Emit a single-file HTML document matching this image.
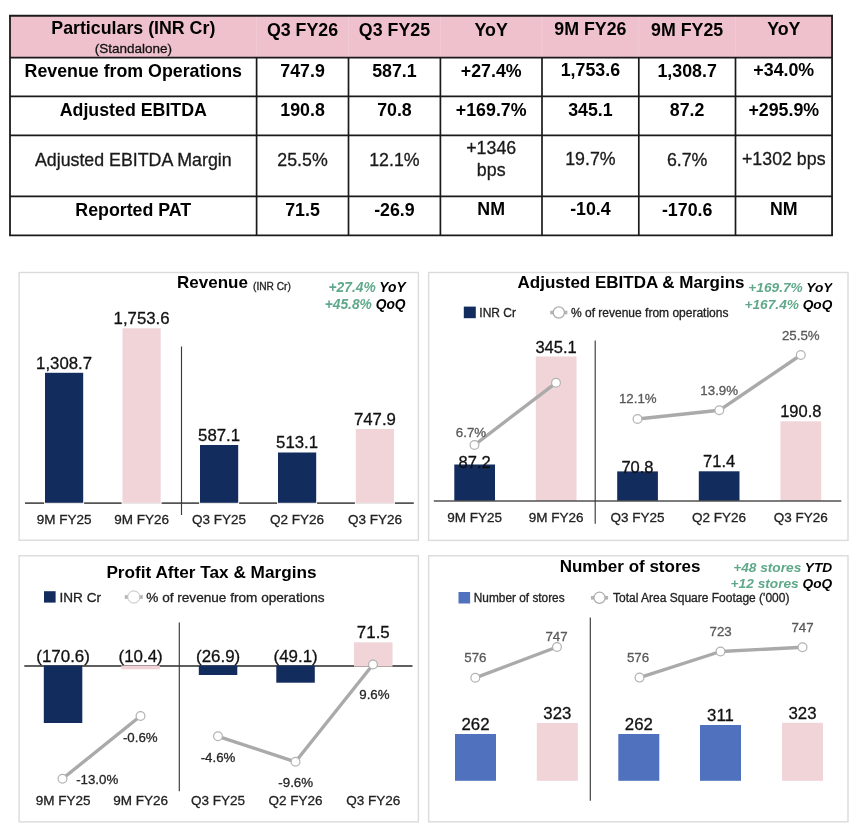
<!DOCTYPE html>
<html lang="en">
<head>
<meta charset="utf-8">
<title>Financial Highlights</title>
<style>
html,body{margin:0;padding:0;background:#fff;}
body{width:860px;height:836px;overflow:hidden;}
svg{display:block;filter:blur(0.4px);font-family:'Liberation Sans', Arial, Helvetica, sans-serif;}
</style>
</head>
<body>
<svg width="860" height="836" viewBox="0 0 860 836">
<rect x="0" y="0" width="860" height="836" fill="#fff"/>
<rect x="10.0" y="15.7" width="822.05" height="41.900000000000006" fill="#EEC1CC" />
<line x1="256.6" y1="16.7" x2="256.6" y2="56.6" stroke="#F1CBD4" stroke-width="1" />
<line x1="348.5" y1="16.7" x2="348.5" y2="56.6" stroke="#F1CBD4" stroke-width="1" />
<line x1="440.4" y1="16.7" x2="440.4" y2="56.6" stroke="#F1CBD4" stroke-width="1" />
<line x1="542.0" y1="16.7" x2="542.0" y2="56.6" stroke="#F1CBD4" stroke-width="1" />
<line x1="638.8" y1="16.7" x2="638.8" y2="56.6" stroke="#F1CBD4" stroke-width="1" />
<line x1="735.5" y1="16.7" x2="735.5" y2="56.6" stroke="#F1CBD4" stroke-width="1" />
<line x1="10.0" y1="57.6" x2="832.05" y2="57.6" stroke="#1a1a1a" stroke-width="1.7" />
<line x1="10.0" y1="96.45" x2="832.05" y2="96.45" stroke="#1a1a1a" stroke-width="1.7" />
<line x1="10.0" y1="135.4" x2="832.05" y2="135.4" stroke="#1a1a1a" stroke-width="1.7" />
<line x1="10.0" y1="196.45" x2="832.05" y2="196.45" stroke="#1a1a1a" stroke-width="1.7" />
<line x1="9.1" y1="15.7" x2="832.9499999999999" y2="15.7" stroke="#1a1a1a" stroke-width="1.9" />
<line x1="9.1" y1="235.35" x2="832.9499999999999" y2="235.35" stroke="#1a1a1a" stroke-width="1.8" />
<line x1="10.0" y1="15.7" x2="10.0" y2="235.35" stroke="#1a1a1a" stroke-width="1.8" />
<line x1="832.05" y1="15.7" x2="832.05" y2="235.35" stroke="#1a1a1a" stroke-width="1.8" />
<line x1="256.6" y1="57.6" x2="256.6" y2="235.35" stroke="#1a1a1a" stroke-width="1.7" />
<line x1="348.5" y1="57.6" x2="348.5" y2="235.35" stroke="#1a1a1a" stroke-width="1.7" />
<line x1="440.4" y1="57.6" x2="440.4" y2="235.35" stroke="#1a1a1a" stroke-width="1.7" />
<line x1="542.0" y1="57.6" x2="542.0" y2="235.35" stroke="#1a1a1a" stroke-width="1.7" />
<line x1="638.8" y1="57.6" x2="638.8" y2="235.35" stroke="#1a1a1a" stroke-width="1.7" />
<line x1="735.5" y1="57.6" x2="735.5" y2="235.35" stroke="#1a1a1a" stroke-width="1.7" />
<text x="133.3" y="33.9" font-size="17.8" font-weight="bold" font-style="normal" text-anchor="middle" fill="#000"  >Particulars (INR Cr)</text>
<text x="133.3" y="53" font-size="13.5" font-weight="normal" font-style="normal" text-anchor="middle" fill="#111" stroke="#111" stroke-width="0.3" >(Standalone)</text>
<text x="302.55" y="35.8" font-size="17.8" font-weight="bold" font-style="normal" text-anchor="middle" fill="#000"  >Q3 FY26</text>
<text x="394.45" y="35.8" font-size="17.8" font-weight="bold" font-style="normal" text-anchor="middle" fill="#000"  >Q3 FY25</text>
<text x="491.2" y="35.7" font-size="17.8" font-weight="bold" font-style="normal" text-anchor="middle" fill="#000"  >YoY</text>
<text x="590.4" y="35.2" font-size="17.8" font-weight="bold" font-style="normal" text-anchor="middle" fill="#000"  >9M FY26</text>
<text x="687.15" y="35.8" font-size="17.8" font-weight="bold" font-style="normal" text-anchor="middle" fill="#000"  >9M FY25</text>
<text x="783.775" y="35.3" font-size="17.8" font-weight="bold" font-style="normal" text-anchor="middle" fill="#000"  >YoY</text>
<text x="133.3" y="76.7" font-size="17.8" font-weight="bold" font-style="normal" text-anchor="middle" fill="#000"  >Revenue from Operations</text>
<text x="302.55" y="76.7" font-size="17.8" font-weight="bold" font-style="normal" text-anchor="middle" fill="#000"  >747.9</text>
<text x="394.45" y="76.7" font-size="17.8" font-weight="bold" font-style="normal" text-anchor="middle" fill="#000"  >587.1</text>
<text x="491.2" y="76.8" font-size="17.8" font-weight="bold" font-style="normal" text-anchor="middle" fill="#000"  >+27.4%</text>
<text x="590.4" y="76.4" font-size="17.8" font-weight="bold" font-style="normal" text-anchor="middle" fill="#000"  >1,753.6</text>
<text x="687.15" y="76.8" font-size="17.8" font-weight="bold" font-style="normal" text-anchor="middle" fill="#000"  >1,308.7</text>
<text x="783.775" y="75.8" font-size="17.8" font-weight="bold" font-style="normal" text-anchor="middle" fill="#000"  >+34.0%</text>
<text x="133.3" y="115.7" font-size="17.8" font-weight="bold" font-style="normal" text-anchor="middle" fill="#000"  >Adjusted EBITDA</text>
<text x="302.55" y="115.7" font-size="17.8" font-weight="bold" font-style="normal" text-anchor="middle" fill="#000"  >190.8</text>
<text x="394.45" y="115.7" font-size="17.8" font-weight="bold" font-style="normal" text-anchor="middle" fill="#000"  >70.8</text>
<text x="491.2" y="115.7" font-size="17.8" font-weight="bold" font-style="normal" text-anchor="middle" fill="#000"  >+169.7%</text>
<text x="590.4" y="115.7" font-size="17.8" font-weight="bold" font-style="normal" text-anchor="middle" fill="#000"  >345.1</text>
<text x="687.15" y="115.7" font-size="17.8" font-weight="bold" font-style="normal" text-anchor="middle" fill="#000"  >87.2</text>
<text x="783.775" y="115.7" font-size="17.8" font-weight="bold" font-style="normal" text-anchor="middle" fill="#000"  >+295.9%</text>
<text x="133.3" y="215.6" font-size="17.8" font-weight="bold" font-style="normal" text-anchor="middle" fill="#000"  >Reported PAT</text>
<text x="302.55" y="215.8" font-size="17.8" font-weight="bold" font-style="normal" text-anchor="middle" fill="#000"  >71.5</text>
<text x="394.45" y="215.8" font-size="17.8" font-weight="bold" font-style="normal" text-anchor="middle" fill="#000"  >-26.9</text>
<text x="491.2" y="215.3" font-size="17.8" font-weight="bold" font-style="normal" text-anchor="middle" fill="#000"  >NM</text>
<text x="590.4" y="214.9" font-size="17.8" font-weight="bold" font-style="normal" text-anchor="middle" fill="#000"  >-10.4</text>
<text x="687.15" y="215.6" font-size="17.8" font-weight="bold" font-style="normal" text-anchor="middle" fill="#000"  >-170.6</text>
<text x="783.775" y="214.8" font-size="17.8" font-weight="bold" font-style="normal" text-anchor="middle" fill="#000"  >NM</text>
<text x="133.3" y="165.9" font-size="17.8" font-weight="normal" font-style="normal" text-anchor="middle" fill="#1a1a1a" stroke="#1a1a1a" stroke-width="0.3" >Adjusted EBITDA Margin</text>
<text x="302.55" y="165.9" font-size="17.8" font-weight="normal" font-style="normal" text-anchor="middle" fill="#1a1a1a" stroke="#1a1a1a" stroke-width="0.3" >25.5%</text>
<text x="394.45" y="165.9" font-size="17.8" font-weight="normal" font-style="normal" text-anchor="middle" fill="#1a1a1a" stroke="#1a1a1a" stroke-width="0.3" >12.1%</text>
<text x="590.4" y="165.2" font-size="17.8" font-weight="normal" font-style="normal" text-anchor="middle" fill="#1a1a1a" stroke="#1a1a1a" stroke-width="0.3" >19.7%</text>
<text x="687.15" y="165.6" font-size="17.8" font-weight="normal" font-style="normal" text-anchor="middle" fill="#1a1a1a" stroke="#1a1a1a" stroke-width="0.3" >6.7%</text>
<text x="783.775" y="164.9" font-size="17.8" font-weight="normal" font-style="normal" text-anchor="middle" fill="#1a1a1a" stroke="#1a1a1a" stroke-width="0.3" >+1302 bps</text>
<text x="491.2" y="154.2" font-size="17.8" font-weight="normal" font-style="normal" text-anchor="middle" fill="#1a1a1a" stroke="#1a1a1a" stroke-width="0.3" >+1346</text>
<text x="491.2" y="176.4" font-size="17.8" font-weight="normal" font-style="normal" text-anchor="middle" fill="#1a1a1a" stroke="#1a1a1a" stroke-width="0.3" >bps</text>
<rect x="19.1" y="272.5" width="399.29999999999995" height="267.70000000000005" fill="#fff" stroke="#DBDBDB" stroke-width="1.4"/>
<text x="177" y="288.0" font-size="17" font-weight="bold" font-style="normal" text-anchor="start" fill="#000"  >Revenue</text>
<text x="253" y="290.1" font-size="10.2" font-weight="normal" font-style="normal" text-anchor="start" fill="#222" stroke="#222" stroke-width="0.3" >(INR Cr)</text>
<text x="405.6" y="291.7" font-size="13.8" font-weight="bold" font-style="italic" text-anchor="end"><tspan fill="#5FA88B">+27.4%</tspan><tspan fill="#000"> YoY</tspan></text>
<text x="405.6" y="308.6" font-size="13.8" font-weight="bold" font-style="italic" text-anchor="end"><tspan fill="#5FA88B">+45.8%</tspan><tspan fill="#000"> QoQ</tspan></text>
<line x1="25" y1="503.2" x2="413.8" y2="503.2" stroke="#555555" stroke-width="1.7" />
<line x1="181.5" y1="346.5" x2="181.5" y2="515" stroke="#3a3a3a" stroke-width="1.15" />
<rect x="44.1" y="501.5" width="40" height="3" fill="#fff" />
<rect x="45" y="502.8" width="38.2" height="1.1" fill="#e4e4e4" />
<rect x="45" y="372.8" width="38.2" height="130.0" fill="#132C5E" />
<text x="64.1" y="368.5" font-size="16.8" font-weight="normal" font-style="normal" text-anchor="middle" fill="#111" stroke="#111" stroke-width="0.3" >1,308.7</text>
<text x="64.1" y="524.3" font-size="13.5" font-weight="normal" font-style="normal" text-anchor="middle" fill="#222" stroke="#222" stroke-width="0.3" >9M FY25</text>
<rect x="121.6" y="501.5" width="40" height="3" fill="#fff" />
<rect x="122.5" y="502.8" width="38.2" height="1.1" fill="#e4e4e4" />
<rect x="122.5" y="328.3" width="38.2" height="174.5" fill="#F0D4D7" />
<text x="141.6" y="324.0" font-size="16.8" font-weight="normal" font-style="normal" text-anchor="middle" fill="#111" stroke="#111" stroke-width="0.3" >1,753.6</text>
<text x="141.6" y="524.3" font-size="13.5" font-weight="normal" font-style="normal" text-anchor="middle" fill="#222" stroke="#222" stroke-width="0.3" >9M FY26</text>
<rect x="199.1" y="501.5" width="40" height="3" fill="#fff" />
<rect x="200" y="502.8" width="38.2" height="1.1" fill="#e4e4e4" />
<rect x="200" y="445" width="38.2" height="57.80000000000001" fill="#132C5E" />
<text x="219.1" y="440.7" font-size="16.8" font-weight="normal" font-style="normal" text-anchor="middle" fill="#111" stroke="#111" stroke-width="0.3" >587.1</text>
<text x="219.1" y="524.3" font-size="13.5" font-weight="normal" font-style="normal" text-anchor="middle" fill="#222" stroke="#222" stroke-width="0.3" >Q3 FY25</text>
<rect x="277.1" y="501.5" width="40" height="3" fill="#fff" />
<rect x="278" y="502.8" width="38.2" height="1.1" fill="#e4e4e4" />
<rect x="278" y="452.5" width="38.2" height="50.30000000000001" fill="#132C5E" />
<text x="297.1" y="448.2" font-size="16.8" font-weight="normal" font-style="normal" text-anchor="middle" fill="#111" stroke="#111" stroke-width="0.3" >513.1</text>
<text x="297.1" y="524.3" font-size="13.5" font-weight="normal" font-style="normal" text-anchor="middle" fill="#222" stroke="#222" stroke-width="0.3" >Q2 FY26</text>
<rect x="354.90000000000003" y="501.5" width="40" height="3" fill="#fff" />
<rect x="355.8" y="502.8" width="38.2" height="1.1" fill="#e4e4e4" />
<rect x="355.8" y="429" width="38.2" height="73.80000000000001" fill="#F0D4D7" />
<text x="374.90000000000003" y="424.7" font-size="16.8" font-weight="normal" font-style="normal" text-anchor="middle" fill="#111" stroke="#111" stroke-width="0.3" >747.9</text>
<text x="374.90000000000003" y="524.3" font-size="13.5" font-weight="normal" font-style="normal" text-anchor="middle" fill="#222" stroke="#222" stroke-width="0.3" >Q3 FY26</text>
<rect x="428.6" y="272.5" width="419.4" height="267.9" fill="#fff" stroke="#DBDBDB" stroke-width="1.4"/>
<text x="517.5" y="288.2" font-size="17" font-weight="bold" font-style="normal" text-anchor="start" fill="#000"  >Adjusted EBITDA &amp; Margins</text>
<clipPath id="c2"><rect x="700" y="275" width="132.4" height="40"/></clipPath>
<g clip-path="url(#c2)">
<text x="832.4" y="291.7" font-size="13.7" font-weight="bold" font-style="italic" text-anchor="end"><tspan fill="#5FA88B">+169.7%</tspan><tspan fill="#000"> YoY</tspan></text>
<text x="832.4" y="308.5" font-size="13.7" font-weight="bold" font-style="italic" text-anchor="end"><tspan fill="#5FA88B">+167.4%</tspan><tspan fill="#000"> QoQ</tspan></text>
</g>
<rect x="463.8" y="306.6" width="12" height="11.6" fill="#132C5E" />
<text x="479.3" y="316.8" font-size="12" font-weight="normal" font-style="normal" text-anchor="start" fill="#222" stroke="#222" stroke-width="0.3" >INR Cr</text>
<line x1="550.1999999999999" y1="312.5" x2="567.4" y2="312.5" stroke="#B4B4B4" stroke-width="3.6" />
<circle cx="558.8" cy="312.5" r="5.6" fill="#fff" stroke="#ADADAD" stroke-width="1.3"/>
<text x="571" y="316.8" font-size="12" font-weight="normal" font-style="normal" text-anchor="start" fill="#222" stroke="#222" stroke-width="0.3" >% of revenue from operations</text>
<rect x="454.3" y="464.5" width="40.7" height="36.5" fill="#132C5E" />
<rect x="535.8" y="356.5" width="40.7" height="144.5" fill="#F0D4D7" />
<rect x="617.2" y="471.4" width="40.7" height="29.600000000000023" fill="#132C5E" />
<rect x="698.8" y="471.3" width="40.7" height="29.69999999999999" fill="#132C5E" />
<rect x="780.5" y="421.3" width="40.7" height="79.69999999999999" fill="#F0D4D7" />
<line x1="433.8" y1="501.0" x2="841.3" y2="501.0" stroke="#505050" stroke-width="1.5" />
<line x1="595.2" y1="340.5" x2="595.2" y2="523.8" stroke="#3a3a3a" stroke-width="1.15" />
<text x="474.6" y="522" font-size="13.5" font-weight="normal" font-style="normal" text-anchor="middle" fill="#222" stroke="#222" stroke-width="0.3" >9M FY25</text>
<text x="556.0999999999999" y="522" font-size="13.5" font-weight="normal" font-style="normal" text-anchor="middle" fill="#222" stroke="#222" stroke-width="0.3" >9M FY26</text>
<text x="637.5" y="522" font-size="13.5" font-weight="normal" font-style="normal" text-anchor="middle" fill="#222" stroke="#222" stroke-width="0.3" >Q3 FY25</text>
<text x="719.0999999999999" y="522" font-size="13.5" font-weight="normal" font-style="normal" text-anchor="middle" fill="#222" stroke="#222" stroke-width="0.3" >Q2 FY26</text>
<text x="800.8" y="522" font-size="13.5" font-weight="normal" font-style="normal" text-anchor="middle" fill="#222" stroke="#222" stroke-width="0.3" >Q3 FY26</text>
<polyline points="474.5,445 556,382.8" fill="none" stroke="#AAAAAA" stroke-width="3.4" stroke-linejoin="round" stroke-linecap="round"/>
<polyline points="637.5,419 719.3,410.3 800.8,355" fill="none" stroke="#AAAAAA" stroke-width="3.4" stroke-linejoin="round" stroke-linecap="round"/>
<circle cx="474.5" cy="445" r="4.4" fill="#fff" stroke="#B2B2B2" stroke-width="1.2"/>
<circle cx="556" cy="382.8" r="4.4" fill="#fff" stroke="#B2B2B2" stroke-width="1.2"/>
<circle cx="637.5" cy="419" r="4.4" fill="#fff" stroke="#B2B2B2" stroke-width="1.2"/>
<circle cx="719.3" cy="410.3" r="4.4" fill="#fff" stroke="#B2B2B2" stroke-width="1.2"/>
<circle cx="800.8" cy="355" r="4.4" fill="#fff" stroke="#B2B2B2" stroke-width="1.2"/>
<text x="474.6" y="467.5" font-size="16.5" font-weight="normal" font-style="normal" text-anchor="middle" fill="#111" stroke="#111" stroke-width="0.3" >87.2</text>
<text x="556.0999999999999" y="352.5" font-size="16.5" font-weight="normal" font-style="normal" text-anchor="middle" fill="#111" stroke="#111" stroke-width="0.3" >345.1</text>
<text x="637.5" y="473" font-size="16.5" font-weight="normal" font-style="normal" text-anchor="middle" fill="#111" stroke="#111" stroke-width="0.3" >70.8</text>
<text x="719.0999999999999" y="467" font-size="16.5" font-weight="normal" font-style="normal" text-anchor="middle" fill="#111" stroke="#111" stroke-width="0.3" >71.4</text>
<text x="800.8" y="417" font-size="16.5" font-weight="normal" font-style="normal" text-anchor="middle" fill="#111" stroke="#111" stroke-width="0.3" >190.8</text>
<text x="471" y="436.8" font-size="13.3" font-weight="normal" font-style="normal" text-anchor="middle" fill="#595959" stroke="#595959" stroke-width="0.3" >6.7%</text>
<text x="637.8" y="403.3" font-size="13.3" font-weight="normal" font-style="normal" text-anchor="middle" fill="#595959" stroke="#595959" stroke-width="0.3" >12.1%</text>
<text x="719.2" y="394.5" font-size="13.3" font-weight="normal" font-style="normal" text-anchor="middle" fill="#595959" stroke="#595959" stroke-width="0.3" >13.9%</text>
<text x="800.8" y="339.5" font-size="13.3" font-weight="normal" font-style="normal" text-anchor="middle" fill="#595959" stroke="#595959" stroke-width="0.3" >25.5%</text>
<rect x="19.1" y="555.8" width="399.29999999999995" height="266.1" fill="#fff" stroke="#DBDBDB" stroke-width="1.4"/>
<text x="106.4" y="578.3" font-size="17.2" font-weight="bold" font-style="normal" text-anchor="start" fill="#000"  >Profit After Tax &amp; Margins</text>
<rect x="44" y="591.2" width="11.6" height="11.4" fill="#132C5E" />
<text x="59.5" y="601.8" font-size="13.6" font-weight="normal" font-style="normal" text-anchor="start" fill="#222" stroke="#222" stroke-width="0.3" >INR Cr</text>
<line x1="124.80000000000001" y1="597" x2="142.8" y2="597" stroke="#B4B4B4" stroke-width="3.6" />
<circle cx="133.8" cy="597" r="6.1" fill="#fff" stroke="#C2C2C2" stroke-width="1.0"/>
<text x="146.3" y="601.8" font-size="13.6" font-weight="normal" font-style="normal" text-anchor="start" fill="#222" stroke="#222" stroke-width="0.3" >% of revenue from operations</text>
<line x1="24.3" y1="666" x2="412.5" y2="666" stroke="#2a2a2a" stroke-width="1.3" />
<rect x="43.8" y="665.5" width="38.5" height="57.5" fill="#132C5E" />
<rect x="121.3" y="665.5" width="38.5" height="3.7999999999999545" fill="#F0D4D7" />
<rect x="198.8" y="665.5" width="38.5" height="9.5" fill="#132C5E" />
<rect x="276.3" y="665.5" width="38.5" height="17.200000000000045" fill="#132C5E" />
<rect x="354" y="642.3" width="38.5" height="24.300000000000068" fill="#F0D4D7" />
<line x1="179.3" y1="622.5" x2="179.3" y2="791.3" stroke="#3a3a3a" stroke-width="1.15" />
<polyline points="62.5,778.8 140.5,716" fill="none" stroke="#AAAAAA" stroke-width="3.4" stroke-linejoin="round" stroke-linecap="round"/>
<polyline points="218,736.3 295.5,761.8 373,664.5" fill="none" stroke="#AAAAAA" stroke-width="3.4" stroke-linejoin="round" stroke-linecap="round"/>
<circle cx="62.5" cy="778.8" r="4.4" fill="#fff" stroke="#B2B2B2" stroke-width="1.2"/>
<circle cx="140.5" cy="716" r="4.4" fill="#fff" stroke="#B2B2B2" stroke-width="1.2"/>
<circle cx="218" cy="736.3" r="4.4" fill="#fff" stroke="#B2B2B2" stroke-width="1.2"/>
<circle cx="295.5" cy="761.8" r="4.4" fill="#fff" stroke="#B2B2B2" stroke-width="1.2"/>
<circle cx="373" cy="664.5" r="4.4" fill="#fff" stroke="#B2B2B2" stroke-width="1.2"/>
<text x="63.099999999999994" y="661.7" font-size="16.9" font-weight="normal" font-style="normal" text-anchor="middle" fill="#111" stroke="#111" stroke-width="0.3" >(170.6)</text>
<text x="140.6" y="661.7" font-size="16.9" font-weight="normal" font-style="normal" text-anchor="middle" fill="#111" stroke="#111" stroke-width="0.3" >(10.4)</text>
<text x="218.10000000000002" y="661.7" font-size="16.9" font-weight="normal" font-style="normal" text-anchor="middle" fill="#111" stroke="#111" stroke-width="0.3" >(26.9)</text>
<text x="295.6" y="661.7" font-size="16.9" font-weight="normal" font-style="normal" text-anchor="middle" fill="#111" stroke="#111" stroke-width="0.3" >(49.1)</text>
<text x="373.3" y="638" font-size="16.9" font-weight="normal" font-style="normal" text-anchor="middle" fill="#111" stroke="#111" stroke-width="0.3" >71.5</text>
<text x="63.099999999999994" y="805" font-size="13.5" font-weight="normal" font-style="normal" text-anchor="middle" fill="#222" stroke="#222" stroke-width="0.3" >9M FY25</text>
<text x="140.6" y="805" font-size="13.5" font-weight="normal" font-style="normal" text-anchor="middle" fill="#222" stroke="#222" stroke-width="0.3" >9M FY26</text>
<text x="218.10000000000002" y="805" font-size="13.5" font-weight="normal" font-style="normal" text-anchor="middle" fill="#222" stroke="#222" stroke-width="0.3" >Q3 FY25</text>
<text x="295.6" y="805" font-size="13.5" font-weight="normal" font-style="normal" text-anchor="middle" fill="#222" stroke="#222" stroke-width="0.3" >Q2 FY26</text>
<text x="373.3" y="805" font-size="13.5" font-weight="normal" font-style="normal" text-anchor="middle" fill="#222" stroke="#222" stroke-width="0.3" >Q3 FY26</text>
<text x="97.2" y="783.8" font-size="13.3" font-weight="normal" font-style="normal" text-anchor="middle" fill="#262626" stroke="#262626" stroke-width="0.3" >-13.0%</text>
<text x="140.3" y="741.8" font-size="13.3" font-weight="normal" font-style="normal" text-anchor="middle" fill="#262626" stroke="#262626" stroke-width="0.3" >-0.6%</text>
<text x="218" y="761.8" font-size="13.3" font-weight="normal" font-style="normal" text-anchor="middle" fill="#262626" stroke="#262626" stroke-width="0.3" >-4.6%</text>
<text x="295.7" y="787" font-size="13.3" font-weight="normal" font-style="normal" text-anchor="middle" fill="#262626" stroke="#262626" stroke-width="0.3" >-9.6%</text>
<text x="374.4" y="698.8" font-size="13.3" font-weight="normal" font-style="normal" text-anchor="middle" fill="#262626" stroke="#262626" stroke-width="0.3" >9.6%</text>
<rect x="428.6" y="555.8" width="419.4" height="266.0" fill="#fff" stroke="#DBDBDB" stroke-width="1.4"/>
<text x="559.7" y="571.8" font-size="17" font-weight="bold" font-style="normal" text-anchor="start" fill="#000"  >Number of stores</text>
<text x="832.2" y="572.4" font-size="13.7" font-weight="bold" font-style="italic" text-anchor="end"><tspan fill="#5FA88B">+48 stores</tspan><tspan fill="#000"> YTD</tspan></text>
<text x="832.2" y="588.4" font-size="13.7" font-weight="bold" font-style="italic" text-anchor="end"><tspan fill="#5FA88B">+12 stores</tspan><tspan fill="#000"> QoQ</tspan></text>
<rect x="458.5" y="592" width="11.6" height="11.5" fill="#4F71BE" />
<text x="473.8" y="602.4" font-size="11.85" font-weight="normal" font-style="normal" text-anchor="start" fill="#222" stroke="#222" stroke-width="0.3" >Number of stores</text>
<line x1="590.9" y1="597.8" x2="608.1" y2="597.8" stroke="#B4B4B4" stroke-width="3.6" />
<circle cx="599.5" cy="597.8" r="5.6" fill="#fff" stroke="#ADADAD" stroke-width="1.3"/>
<text x="613" y="602.4" font-size="12" font-weight="normal" font-style="normal" text-anchor="start" fill="#222" stroke="#222" stroke-width="0.3" >Total Area Square Footage ('000)</text>
<line x1="590.3" y1="617.5" x2="590.3" y2="800.8" stroke="#3a3a3a" stroke-width="1.15" />
<rect x="455" y="734" width="41" height="46.799999999999955" fill="#4F71BE" />
<text x="475.5" y="730.2" font-size="16.8" font-weight="normal" font-style="normal" text-anchor="middle" fill="#111" stroke="#111" stroke-width="0.3" >262</text>
<rect x="536.8" y="723" width="41" height="57.799999999999955" fill="#F0D4D7" />
<text x="557.3" y="719.2" font-size="16.8" font-weight="normal" font-style="normal" text-anchor="middle" fill="#111" stroke="#111" stroke-width="0.3" >323</text>
<rect x="618.3" y="734" width="41" height="46.799999999999955" fill="#4F71BE" />
<text x="638.8" y="730.2" font-size="16.8" font-weight="normal" font-style="normal" text-anchor="middle" fill="#111" stroke="#111" stroke-width="0.3" >262</text>
<rect x="700" y="725" width="41" height="55.799999999999955" fill="#4F71BE" />
<text x="720.5" y="721.2" font-size="16.8" font-weight="normal" font-style="normal" text-anchor="middle" fill="#111" stroke="#111" stroke-width="0.3" >311</text>
<rect x="782" y="722.8" width="41" height="58.0" fill="#F0D4D7" />
<text x="802.5" y="719.0" font-size="16.8" font-weight="normal" font-style="normal" text-anchor="middle" fill="#111" stroke="#111" stroke-width="0.3" >323</text>
<polyline points="475.3,677.8 557,647" fill="none" stroke="#AAAAAA" stroke-width="3.4" stroke-linejoin="round" stroke-linecap="round"/>
<polyline points="639.5,677.6 720.5,651.5 802.5,647.3" fill="none" stroke="#AAAAAA" stroke-width="3.4" stroke-linejoin="round" stroke-linecap="round"/>
<circle cx="475.3" cy="677.8" r="4.4" fill="#fff" stroke="#B2B2B2" stroke-width="1.2"/>
<circle cx="557" cy="647" r="4.4" fill="#fff" stroke="#B2B2B2" stroke-width="1.2"/>
<circle cx="639.5" cy="677.6" r="4.4" fill="#fff" stroke="#B2B2B2" stroke-width="1.2"/>
<circle cx="720.5" cy="651.5" r="4.4" fill="#fff" stroke="#B2B2B2" stroke-width="1.2"/>
<circle cx="802.5" cy="647.3" r="4.4" fill="#fff" stroke="#B2B2B2" stroke-width="1.2"/>
<text x="475.4" y="661.8" font-size="13.3" font-weight="normal" font-style="normal" text-anchor="middle" fill="#595959" stroke="#595959" stroke-width="0.3" >576</text>
<text x="556.5" y="641.3" font-size="13.3" font-weight="normal" font-style="normal" text-anchor="middle" fill="#595959" stroke="#595959" stroke-width="0.3" >747</text>
<text x="638" y="661.8" font-size="13.3" font-weight="normal" font-style="normal" text-anchor="middle" fill="#595959" stroke="#595959" stroke-width="0.3" >576</text>
<text x="720.6" y="635.5" font-size="13.3" font-weight="normal" font-style="normal" text-anchor="middle" fill="#595959" stroke="#595959" stroke-width="0.3" >723</text>
<text x="802.5" y="631.7" font-size="13.3" font-weight="normal" font-style="normal" text-anchor="middle" fill="#595959" stroke="#595959" stroke-width="0.3" >747</text>
</svg>
</body>
</html>
